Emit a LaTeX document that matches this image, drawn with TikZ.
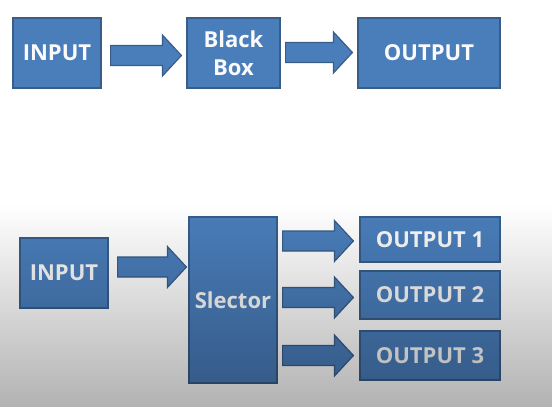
\documentclass[tikz,border=0pt]{standalone}
\usepackage{fontspec}
\setsansfont{Open Sans}[BoldFont={Open Sans Bold}]
\usepackage{tikz}
\usetikzlibrary{calc,fadings}
\definecolor{boxblue}{HTML}{4A7EBB}
\definecolor{boxline}{HTML}{385D8A}
\newcommand{\shaftw}{10pt}
\newcommand{\headw}{20.5pt}
\newcommand{\headl}{19pt}

\begin{document}
\begin{tikzpicture}[x=1pt, y=-1pt,
        blk/.style={draw=boxline, fill=boxblue, line width=1.2pt, text=white!96!gray,
            font=\sffamily\bfseries\fontsize{22}{28}\selectfont, align=center, inner sep=0pt},
        barrow/.style={draw=boxline, fill=boxblue, line width=1.2pt, line join=miter,
            to path={let \p1=(\tikztostart), \p2=(\tikztotarget) in
                ({\x1},{\y1+\shaftw}) -- ({\x2-\headl},{\y1+\shaftw}) -- ({\x2-\headl},{\y1+\headw})
                -- ({\x2},{\y1}) -- ({\x2-\headl},{\y1-\headw}) -- ({\x2-\headl},{\y1-\shaftw})
                -- ({\x1},{\y1-\shaftw}) -- cycle}}]
    %\draw[help lines] (0,0) grid (552,407);
    \fill[white] (0,0) rectangle (552,407);
    \useasboundingbox (0,0) rectangle (552,407);
    % upper row
    \node[blk, minimum width=88pt, minimum height=70pt] (in1) at (57,53) {INPUT};
    \node[blk, minimum width=93pt, minimum height=70pt] (bb) at (233.5,53) {Black\\Box};
    \node[blk, minimum width=142pt, minimum height=70pt] (out) at (429,53) {OUTPUT};
    \draw[barrow] ($(in1.east)+(9,2.5)$) to ($(bb.west)+(-5,2.5)$);
    \draw[barrow] ($(bb.east)+(5,-0.5)$) to ($(out.west)+(-5,-0.5)$);
    % lower row
    \node[blk, minimum width=88pt, minimum height=70pt] (in2) at (64,273) {INPUT};
    \node[blk, minimum width=88pt, minimum height=166pt] (sel) at (233,300) {Slector};
    \node[blk, minimum width=140pt, minimum height=45pt] (o1) at (430,239.5) {OUTPUT 1};
    \node[blk, minimum width=140pt, minimum height=48pt] (o2) at (430,295) {OUTPUT 2};
    \node[blk, minimum width=140pt, minimum height=49pt] (o3) at (430,355.5) {OUTPUT 3};
    \draw[barrow] ($(in2.east)+(9,-6)$) to ($(sel.west)+(-2,0)$);
    \foreach \o/\dy in {o1/1.5, o2/2.5, o3/0}
        \draw[barrow] ($(sel.east |- \o.west)+(5,\dy)$) to ($(\o.west)+(-6,\dy)$);
    % grey shade over the lower half
    \fill[black, opacity=.3, path fading=north] (0,205) rectangle (552,407);
\end{tikzpicture}
\end{document}
